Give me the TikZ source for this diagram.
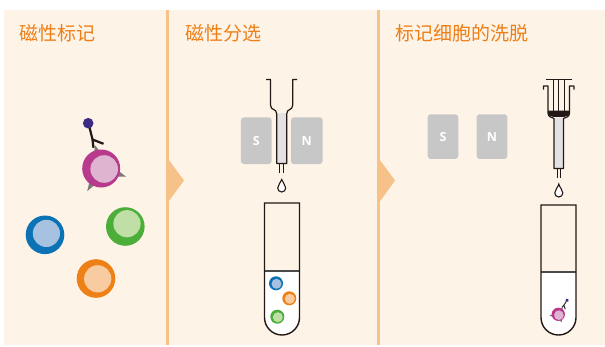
\documentclass[tikz,border=0pt]{standalone}
\usepackage{fontspec}
\setmainfont{Open Sans}
\newfontfamily\cjk{Noto Sans CJK SC}
\newfontfamily\magfont{Open Sans}

\definecolor{panelbg}{HTML}{FEF3E7}
\definecolor{divider}{HTML}{F7C18A}
\definecolor{titleorange}{HTML}{EE7F17}
\definecolor{magnetgray}{HTML}{C7C7C7}
\definecolor{ink}{HTML}{231815}
\definecolor{colgray}{HTML}{E2E2E2}
\definecolor{spikegray}{HTML}{7A7A7A}
\definecolor{abpurple}{HTML}{3C2A85}
\definecolor{liquidline}{HTML}{4A4A4A}
\definecolor{blueout}{HTML}{0B72B5}
\definecolor{bluein}{HTML}{A6C2E0}
\definecolor{greenout}{HTML}{4BAE38}
\definecolor{greenin}{HTML}{C0DFA7}
\definecolor{orangeout}{HTML}{EE8018}
\definecolor{orangein}{HTML}{F8CCA0}
\definecolor{magout}{HTML}{B73A8C}
\definecolor{magin}{HTML}{DEB4D0}

% plain cell: x, y, outer radius, inner dx, inner dy, inner radius, outer colour, inner colour
\newcommand{\plaincell}[8]{%
  \fill[#7] (#1,#2) circle[radius=#3];
  \fill[#8] ({#1+#4},{#2+#5}) circle[radius=#6];}

% labelled cell drawn round the origin; #1 = line width of the antibody
\newcommand{\taggedcell}[1]{%
  \foreach \a/\d in {-104.6/23.8, 18/26, 121.7/26.7}{
    \fill[spikegray] (\a:\d) -- ({\a-13}:16) -- ({\a+13}:16) -- cycle;}
  \fill[magout] (0,0) circle[radius=19];
  \fill[magin] (3,0.5) circle[radius=13.8];
  \draw[ink, line width=#1] (-7.7,-20.7) -- (-8.7,-29) -- (-11.7,-41.3);
  \draw[ink, line width=#1] (-8.7,-29) -- (2.3,-24.7);
  \fill[abpurple] (-13,-45.3) circle[radius=5.3];}

% droplet: centre x, top y, height, half width
\newcommand{\droplet}[4]{%
  \draw[ink, fill=white, line width=1.1pt]
    (#1,#2) .. controls ({#1-0.8},{#2+0.3*#3}) and ({#1-#4},{#2+0.4*#3}) .. ({#1-#4},{#2+#3-#4})
    .. controls ({#1-#4},{#2+#3-0.45*#4}) and ({#1-0.55*#4},{#2+#3}) .. (#1,{#2+#3})
    .. controls ({#1+0.55*#4},{#2+#3}) and ({#1+#4},{#2+#3-0.45*#4}) .. ({#1+#4},{#2+#3-#4})
    .. controls ({#1+#4},{#2+0.4*#3}) and ({#1+0.8},{#2+0.3*#3}) .. (#1,#2) -- cycle;}

% test tube: left x, right x, top y, liquid y, bottom y
\newcommand{\testtube}[5]{%
  \fill[white] (#1,#4) -- (#1,{#5-(#2-#1)/2})
    arc[start angle=180, end angle=0, radius={(#2-#1)/2}] -- (#2,#4) -- cycle;
  \draw[liquidline, line width=1.2pt] (#1,#4) -- (#2,#4);
  \draw[ink, line width=1.4pt] (#1,#3) -- (#1,{#5-(#2-#1)/2})
    arc[start angle=180, end angle=0, radius={(#2-#1)/2}] -- (#2,#3) -- cycle;}

\begin{document}
\begin{tikzpicture}[x=1pt, y=-1pt,
  title/.style={font=\cjk\fontsize{19}{19}\selectfont, text=titleorange,
    anchor=base west, inner sep=0pt},
  magnet/.style={fill=magnetgray, rounded corners=3pt, inner sep=0pt,
    text=white, font=\magfont\bfseries\fontsize{12.5}{12.5}\selectfont},
  outline/.style={draw=ink, line width=1.2pt, line join=round},
  thin/.style={draw=ink, line width=0.9pt}]

\useasboundingbox (0,0) rectangle (605,346);
\fill[white] (0,0) rectangle (605,346);
\fill[panelbg] (4,9.5) rectangle (605,345);

% dividers with step arrows
\fill[divider] (166,9.5) rectangle (168.5,345);
\fill[divider] (168.5,159.5) -- (184,180.5) -- (168.5,201.5) -- cycle;
\fill[divider] (377,9.5) rectangle (379.5,345);
\fill[divider] (379.5,159.5) -- (395,180.5) -- (379.5,202) -- cycle;

% titles
\node[title] (t1) at (19.5,40.5) {磁性标记};
\node[title] (t2) at (185,40.5) {磁性分选};
\node[title] (t3) at (395,40.5) {标记细胞的洗脱};

% ---- step 1: cells ----
\begin{scope}[shift={(101.2,168.5)}]
  \taggedcell{2.2pt}
\end{scope}
\plaincell{45}{234.8}{19.3}{1.4}{-1.4}{13.6}{blueout}{bluein}
\plaincell{125.3}{226.5}{19.3}{1.7}{-2.8}{13.6}{greenout}{greenin}
\plaincell{96}{278.5}{19.3}{1.7}{0.3}{13.6}{orangeout}{orangein}

% ---- step 2: column between magnets ----
\node[magnet, minimum width=30.7pt, minimum height=46.7pt] (s2) at (256.3,140.7) {S};
\node[magnet, minimum width=31.7pt, minimum height=46.7pt] (n2) at (306.8,140.7) {N};
\fill[colgray] (276.7,113) rectangle (286.7,163.5);
\draw[outline] (266,79.5) -- (270.5,79.5) -- (270.5,105)
  .. controls (270.5,111) and (276.7,108) .. (276.7,114) -- (276.7,163.5)
  -- (286.7,163.5) -- (286.7,114)
  .. controls (286.7,108) and (292.7,111) .. (292.7,105) -- (292.7,79.5) -- (297.2,79.5);
\draw[thin] (279.5,163.5) -- (279.5,172.5);
\draw[thin] (283.9,163.5) -- (283.9,172.5);
\droplet{281.7}{179.5}{12.5}{4}
\testtube{264.5}{299.5}{203}{271}{335}
\plaincell{276}{283.3}{7}{0.5}{0.5}{5}{blueout}{bluein}
\plaincell{289.3}{298.3}{7}{0.5}{0.5}{5}{orangeout}{orangein}
\plaincell{277.3}{316.7}{7}{0.5}{0.5}{5}{greenout}{greenin}

% ---- step 3: elution with plunger ----
\node[magnet, minimum width=30.6pt, minimum height=44.7pt] (s3) at (443,136.6) {S};
\node[magnet, minimum width=30.6pt, minimum height=44.7pt] (n3) at (492,136.6) {N};
\fill[colgray] (554,118) rectangle (563.5,168.5);
\fill[ink] (548,110.5) -- (569.5,110.5) -- (569.5,113)
  .. controls (569.5,115.5) and (567.5,116) .. (564.5,116.8) -- (553,116.8)
  .. controls (550,116) and (548,115.5) .. (548,113) -- cycle;
\draw[outline] (545.5,79.5) -- (572,79.5);
\foreach \rx in {553.5,558.8,564}{\draw[thin] (\rx,79.5) -- (\rx,111);}
\draw[outline] (543.5,89.5) -- (543.5,86) -- (548,86) -- (548,113)
  .. controls (548,116.5) and (551,117.5) .. (554,118.5) -- (554,168.5)
  -- (563.5,168.5) -- (563.5,118.5)
  .. controls (566.5,117.5) and (569.5,116.5) .. (569.5,113) -- (569.5,86)
  -- (574,86) -- (574,89.5);
\draw[thin] (557,168.5) -- (557,178);
\draw[thin] (560.6,168.5) -- (560.6,178);
\droplet{558.8}{184}{13}{4}
\testtube{541}{576}{205}{272}{335}
\begin{scope}[shift={(558.3,314.3)}, rotate=-48, scale=0.35]
  \taggedcell{0.9pt}
\end{scope}

\end{tikzpicture}
\end{document}
